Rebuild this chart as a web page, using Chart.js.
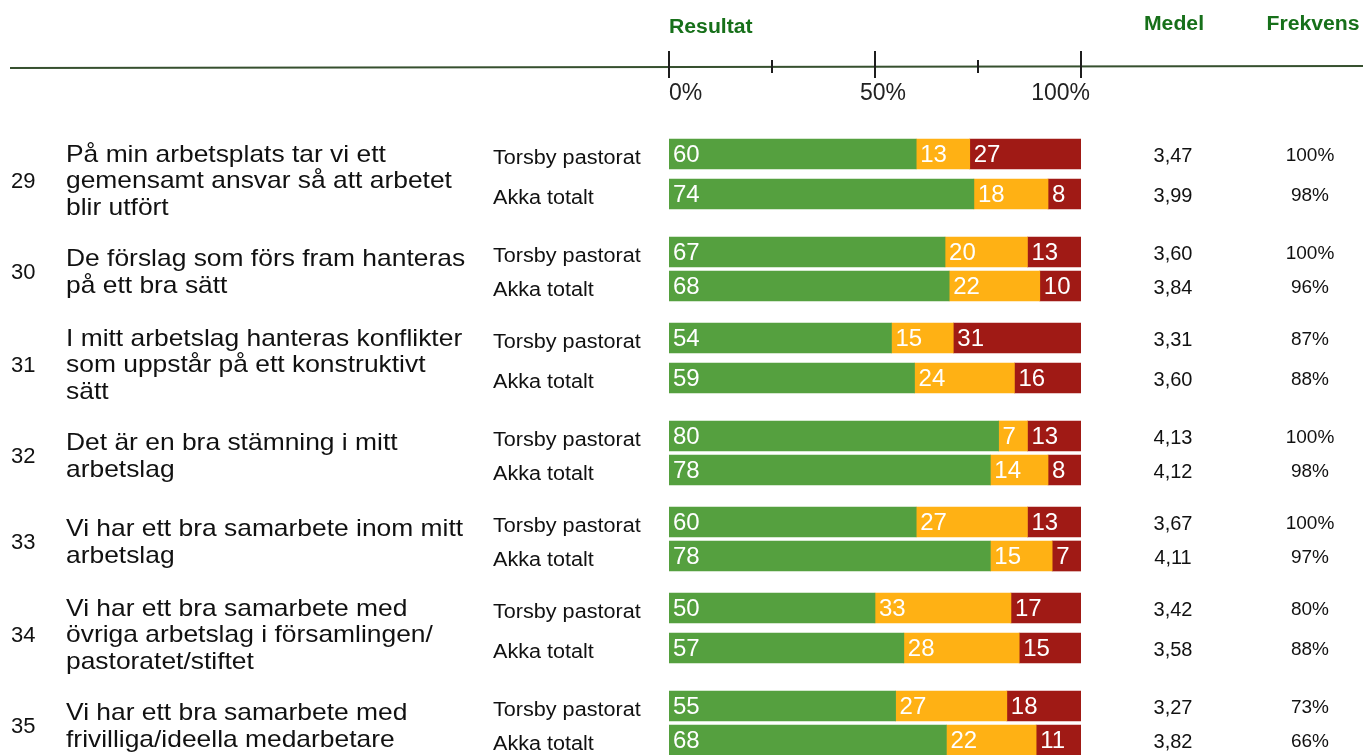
<!DOCTYPE html>
<html>
<head>
<meta charset="utf-8">
<script src="https://cdn.jsdelivr.net/npm/chart.js@4/dist/chart.umd.min.js"></script>
<style>
  html, body { margin: 0; padding: 0; background: #fff; overflow: hidden; }
  #wrap { position: relative; width: 1363px; height: 755px; }
</style>
</head>
<body>
<div id="wrap"><canvas id="chart"></canvas></div>
<script>
// frågor
const questionNumbers = ['29', '30', '31', '32', '33', '34', '35'];
const questionTexts = [
  ['På min arbetsplats tar vi ett', 'gemensamt ansvar så att arbetet', 'blir utfört'],
  ['De förslag som förs fram hanteras', 'på ett bra sätt'],
  ['I mitt arbetslag hanteras konflikter', 'som uppstår på ett konstruktivt', 'sätt'],
  ['Det är en bra stämning i mitt', 'arbetslag'],
  ['Vi har ett bra samarbete inom mitt', 'arbetslag'],
  ['Vi har ett bra samarbete med', 'övriga arbetslag i församlingen/', 'pastoratet/stiftet'],
  ['Vi har ett bra samarbete med', 'frivilliga/ideella medarbetare']
];
const groupNames = ['Torsby pastorat', 'Akka totalt'];

// andelar i procent (grön / gul / röd)
const torsbyGreen  = [60, 67, 54, 80, 60, 50, 55];
const torsbyOrange = [13, 20, 15, 7, 27, 33, 27];
const torsbyRed    = [27, 13, 31, 13, 13, 17, 18];
const akkaGreen    = [74, 68, 59, 78, 78, 57, 68];
const akkaOrange   = [18, 22, 24, 14, 15, 28, 22];
const akkaRed      = [8, 10, 16, 8, 7, 15, 11];

const torsbyMedel    = ['3,47', '3,60', '3,31', '4,13', '3,67', '3,42', '3,27'];
const akkaMedel      = ['3,99', '3,84', '3,60', '4,12', '4,11', '3,58', '3,82'];
const torsbyFrekvens = ['100%', '100%', '87%', '100%', '100%', '80%', '73%'];
const akkaFrekvens   = ['98%', '96%', '88%', '98%', '97%', '88%', '66%'];

const majorTicks = [0, 50, 100];
const minorTicks = [25, 75];
const tickLabels = ['0%', '50%', '100%'];

const GREEN = '#55a03f';
const ORANGE = '#ffb114';
const RED = '#a01a15';
const HEAD = '#17701a';
const FONT = '"Liberation Sans", Arial, sans-serif';

// radindelning på y-axeln: frågor med tre textrader tar mer plats
function pairGap(lines) { return lines === 3 ? 20 : 17; }
function blockSize(lines) { return lines === 3 ? 49 : 43; }

const torsbySlot = [];
const akkaSlot = [];
let pos = 0;
questionTexts.forEach(lines => {
  torsbySlot.push(pos);
  akkaSlot.push(pos + pairGap(lines.length));
  pos += blockSize(lines.length);
});
const nSlots = akkaSlot[akkaSlot.length - 1] + 1;
const labels = new Array(nSlots).fill('');
torsbySlot.forEach(s => { labels[s] = groupNames[0]; });
akkaSlot.forEach(s => { labels[s] = groupNames[1]; });

// avrundade värden summerar inte alltid till 100, staplarna fyller ändå hela bredden
const torsbySum = torsbyGreen.map((v, i) => v + torsbyOrange[i] + torsbyRed[i]);
const akkaSum = akkaGreen.map((v, i) => v + akkaOrange[i] + akkaRed[i]);

function spread(tors, akka, share) {
  const out = new Array(nSlots).fill(null);
  tors.forEach((v, i) => { out[torsbySlot[i]] = share ? v * 100 / torsbySum[i] : v; });
  akka.forEach((v, i) => { out[akkaSlot[i]] = share ? v * 100 / akkaSum[i] : v; });
  return out;
}

function makeDataset(label, tors, akka, color) {
  return {
    label: label,
    data: spread(tors, akka, true),
    shown: spread(tors, akka, false),
    backgroundColor: color
  };
}

function stretchText(ctx, text, x, y, sx) {
  ctx.save();
  ctx.translate(x, y);
  ctx.scale(sx, 1);
  ctx.fillText(text, 0, 0);
  ctx.restore();
}

const tablePlugin = {
  id: 'tablePlugin',
  afterDraw(chart) {
    const ctx = chart.ctx;
    const x = chart.scales.x;
    const y = chart.scales.y;
    const area = chart.chartArea;

    ctx.save();
    // värden i staplarna
    ctx.font = '24px ' + FONT;
    ctx.fillStyle = '#fff';
    ctx.textBaseline = 'middle';
    ctx.textAlign = 'left';
    chart.data.datasets.forEach((ds, di) => {
      chart.getDatasetMeta(di).data.forEach((bar, i) => {
        const v = ds.shown[i];
        if (v == null) return;
        ctx.fillText(String(v), Math.min(bar.base, bar.x) + 4, bar.y + 1);
      });
    });

    // rubriker
    ctx.font = 'bold 20px ' + FONT;
    ctx.fillStyle = HEAD;
    ctx.textAlign = 'left';
    stretchText(ctx, 'Resultat', x.getPixelForValue(0), 27, 1.06);
    ctx.textAlign = 'center';
    stretchText(ctx, 'Medel', area.right + 93, 24, 1.06);
    stretchText(ctx, 'Frekvens', area.right + 232, 24, 1.06);

    // axel överst
    ctx.strokeStyle = '#36502f';
    ctx.lineWidth = 2;
    ctx.beginPath();
    ctx.moveTo(10, 68);
    ctx.lineTo(chart.width, 66);
    ctx.stroke();
    ctx.strokeStyle = '#1e1e1e';
    majorTicks.forEach(t => {
      const px = x.getPixelForValue(t);
      ctx.beginPath(); ctx.moveTo(px, 51); ctx.lineTo(px, 78); ctx.stroke();
    });
    minorTicks.forEach(t => {
      const px = x.getPixelForValue(t);
      ctx.beginPath(); ctx.moveTo(px, 60); ctx.lineTo(px, 73); ctx.stroke();
    });
    ctx.font = '23px ' + FONT;
    ctx.fillStyle = '#222';
    const aligns = [['left', 0], ['center', 8], ['right', 9]];
    majorTicks.forEach((t, i) => {
      ctx.textAlign = aligns[i][0];
      ctx.fillText(tickLabels[i], x.getPixelForValue(t) + aligns[i][1], 94);
    });

    // frågetexter, grupper, medel, frekvens
    ctx.fillStyle = '#111';
    questionNumbers.forEach((num, q) => {
      const yT = y.getPixelForValue(torsbySlot[q]);
      const yA = y.getPixelForValue(akkaSlot[q]);
      const lines = questionTexts[q];
      const mid = (yT + yA) / 2 + (lines.length === 3 ? 7.5 : 4);
      ctx.textAlign = 'left';
      ctx.font = '22px ' + FONT;
      ctx.fillText(num, 11, mid);
      ctx.font = '24px ' + FONT;
      lines.forEach((ln, k) => {
        stretchText(ctx, ln, 66, mid + (k - (lines.length - 1) / 2) * 26.5, 1.1);
      });
      ctx.font = '20px ' + FONT;
      stretchText(ctx, groupNames[0], area.left - 176, yT + 4, 1.08);
      stretchText(ctx, groupNames[1], area.left - 176, yA + 4, 1.08);
      ctx.textAlign = 'center';
      ctx.font = '20px ' + FONT;
      ctx.fillText(torsbyMedel[q], area.right + 92, yT + 2);
      ctx.fillText(akkaMedel[q], area.right + 92, yA + 2);
      ctx.font = '19px ' + FONT;
      ctx.fillText(torsbyFrekvens[q], area.right + 229, yT + 2);
      ctx.fillText(akkaFrekvens[q], area.right + 229, yA + 2);
    });
    ctx.restore();
  }
};

new Chart(document.getElementById('chart'), {
  type: 'bar',
  data: {
    labels: labels,
    datasets: [
      makeDataset('Grön', torsbyGreen, akkaGreen, GREEN),
      makeDataset('Gul', torsbyOrange, akkaOrange, ORANGE),
      makeDataset('Röd', torsbyRed, akkaRed, RED)
    ]
  },
  options: {
    indexAxis: 'y',
    responsive: true,
    maintainAspectRatio: false,
    animation: false,
    barThickness: 30,
    clip: { left: 0, top: 20, right: 0, bottom: 20 },
    layout: { padding: { left: 669, right: 282, top: 153, bottom: 14 } },
    plugins: { legend: { display: false }, tooltip: { enabled: false } },
    scales: {
      x: { display: false, stacked: true, min: 0, max: 100 },
      y: { display: false, stacked: true }
    }
  },
  plugins: [tablePlugin]
});
</script>
</body>
</html>
